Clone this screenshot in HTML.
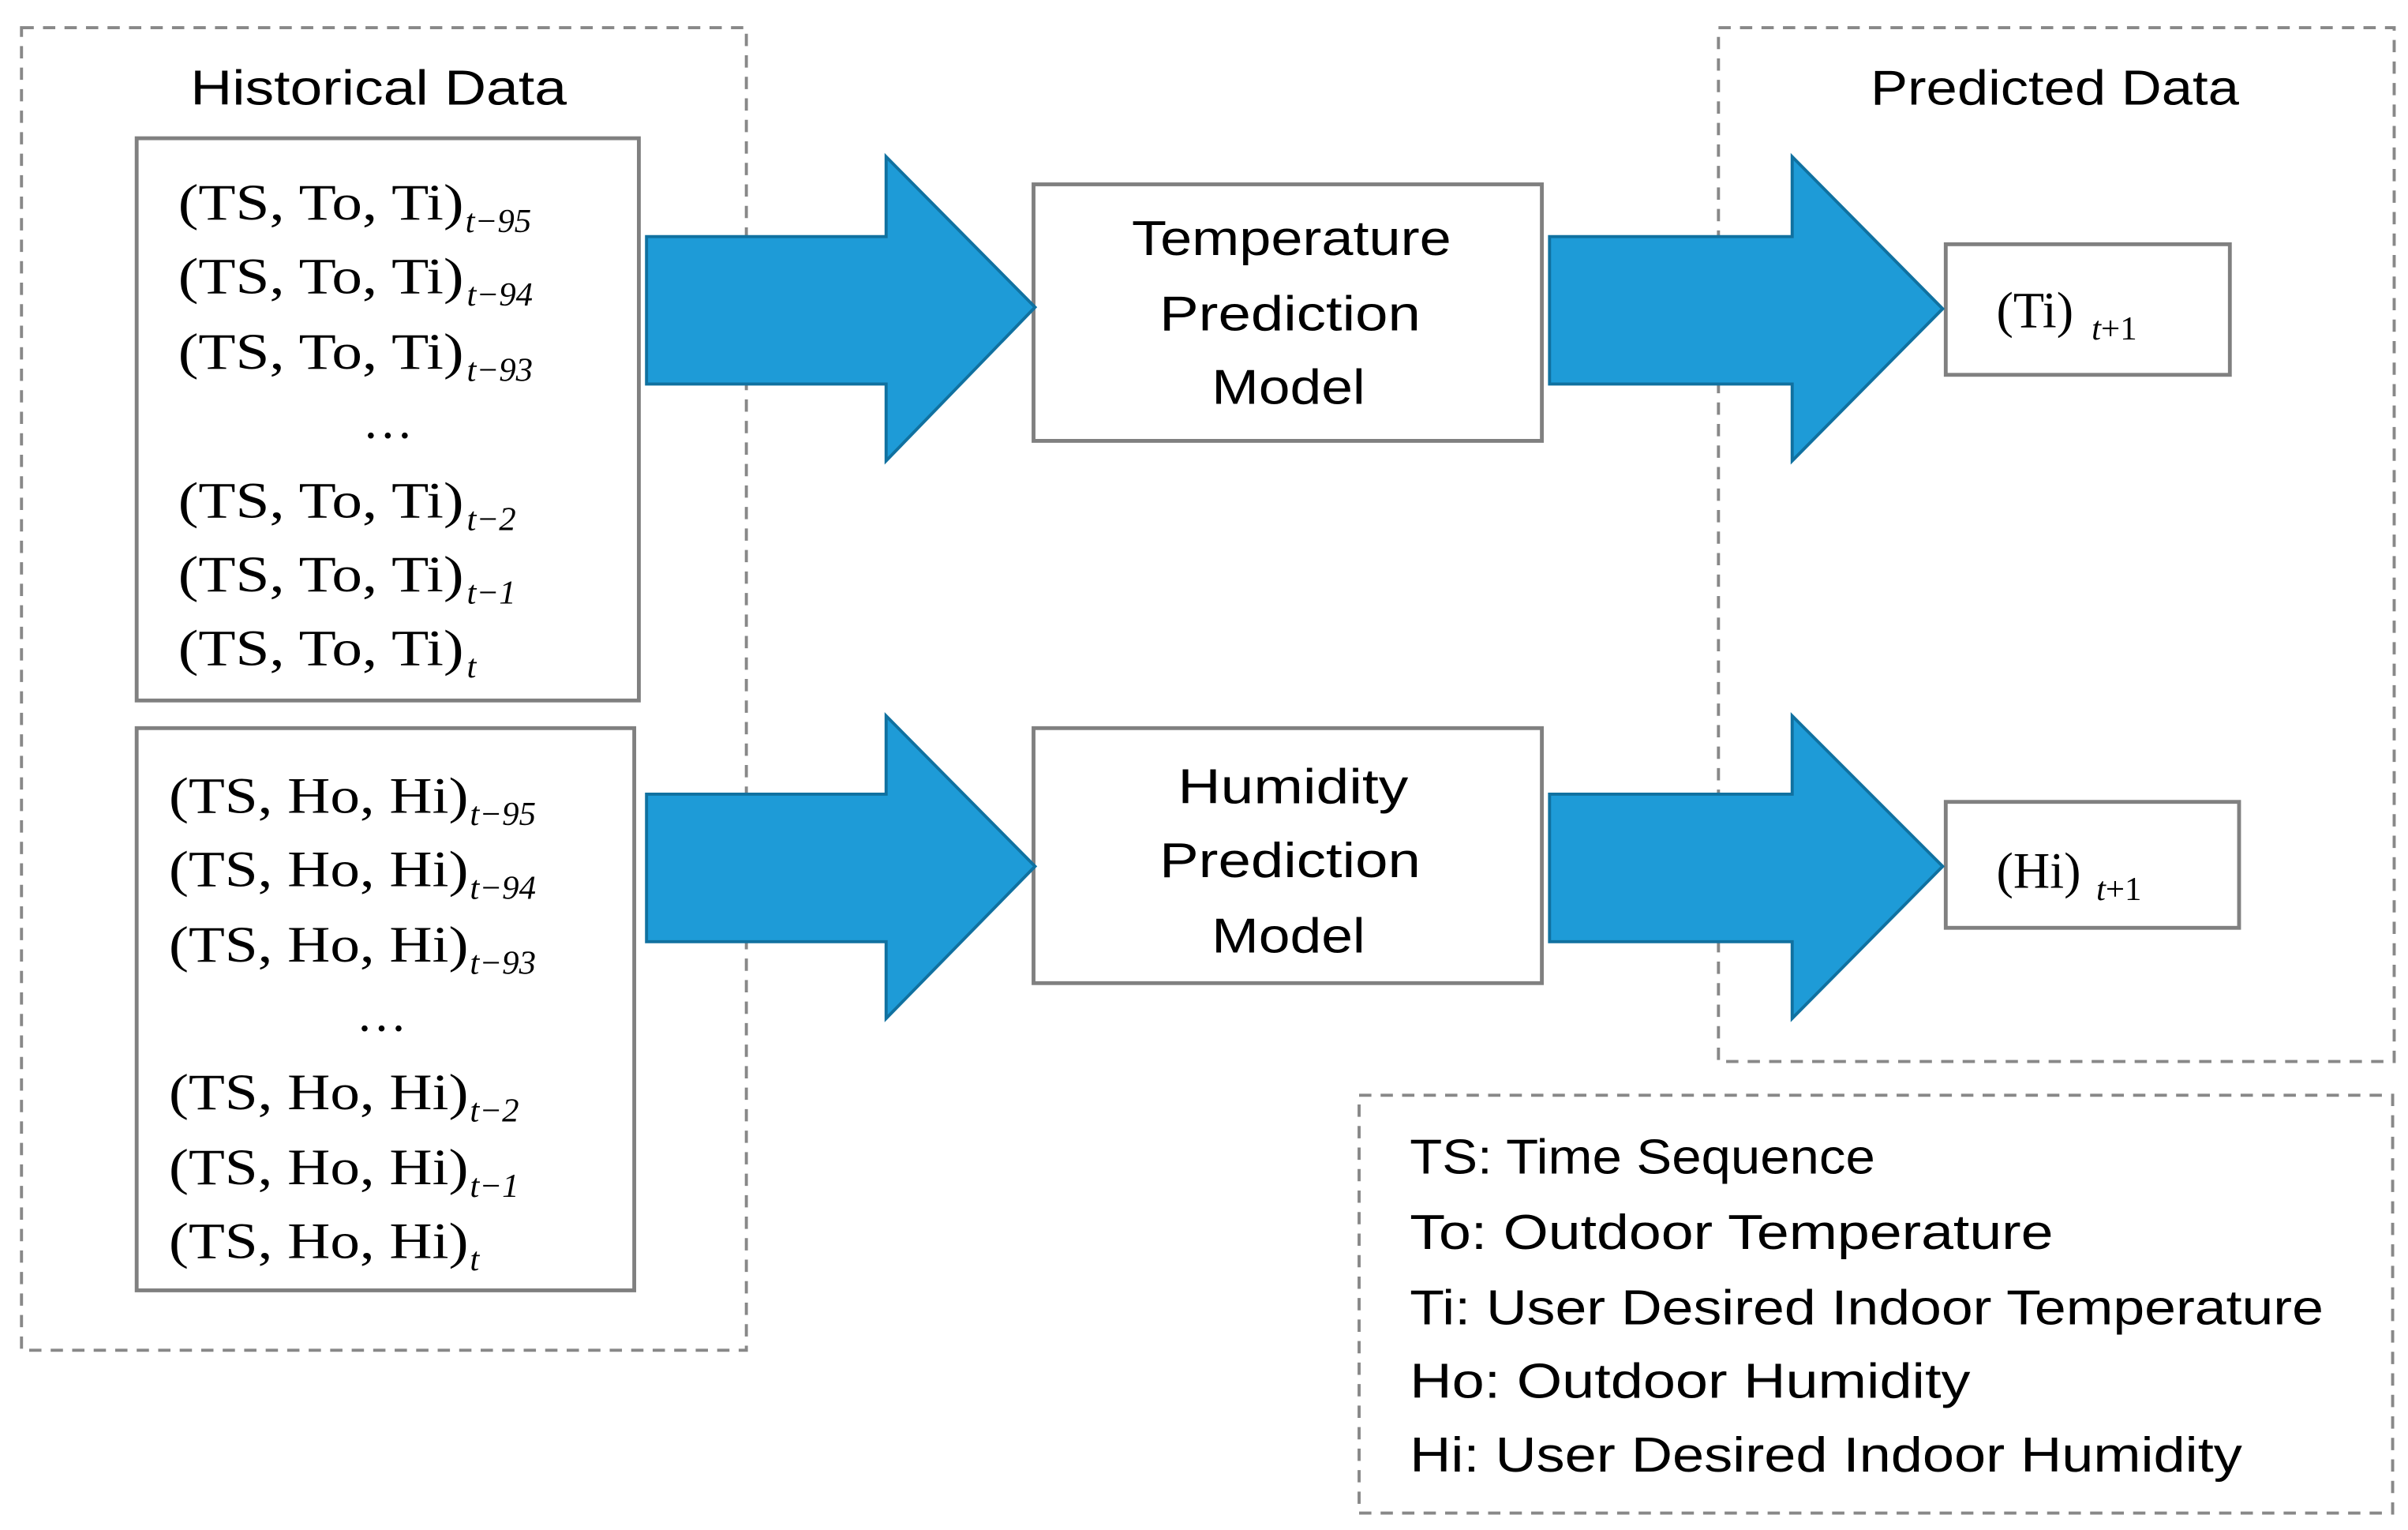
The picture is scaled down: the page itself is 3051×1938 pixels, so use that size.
<!DOCTYPE html>
<html><head><meta charset="utf-8"><style>html,body{margin:0;padding:0;background:#fff}svg{display:block}</style></head><body>
<svg width="3051" height="1938" viewBox="0 0 1568 996" preserveAspectRatio="none" xmlns="http://www.w3.org/2000/svg">
<g fill="none" stroke="#888" stroke-width="2" stroke-dasharray="8,6">
<rect x="14" y="18" width="472" height="861"/>
<rect x="1119" y="18" width="440" height="673"/>
<rect x="885" y="713" width="673" height="272"/>
</g>
<g fill="#fff" stroke="#808080" stroke-width="2.5">
<rect x="89" y="90" width="327" height="366"/>
<rect x="89" y="474" width="324" height="366"/>
<rect x="673" y="120" width="331" height="167"/>
<rect x="673" y="474" width="331" height="166"/>
<rect x="1267" y="159" width="185" height="85"/>
<rect x="1267" y="522" width="191" height="82"/>
</g>
<g fill="#1e9bd7" stroke="#1071a0" stroke-width="2">
<polygon points="421,154 577,154 577,102 674,200 577,300 577,250 421,250"/>
<polygon points="1009,154 1167,154 1167,102 1265,201 1167,300 1167,250 1009,250"/>
<polygon points="421,517 577,517 577,466 674,564 577,663 577,613 421,613"/>
<polygon points="1009,517 1167,517 1167,466 1265,564 1167,663 1167,613 1009,613"/>
</g>
<g font-family="Liberation Sans, sans-serif" font-size="32" fill="#000" lengthAdjust="spacingAndGlyphs">
<text x="124" y="68" textLength="245" lengthAdjust="spacingAndGlyphs">Historical Data</text>
<text x="1218" y="68" textLength="240" lengthAdjust="spacingAndGlyphs">Predicted Data</text>
<text x="737" y="166" textLength="208" lengthAdjust="spacingAndGlyphs">Temperature</text>
<text x="755" y="215" textLength="170" lengthAdjust="spacingAndGlyphs">Prediction</text>
<text x="789" y="263" textLength="100" lengthAdjust="spacingAndGlyphs">Model</text>
<text x="767" y="523" textLength="150" lengthAdjust="spacingAndGlyphs">Humidity</text>
<text x="755" y="571" textLength="170" lengthAdjust="spacingAndGlyphs">Prediction</text>
<text x="789" y="620" textLength="100" lengthAdjust="spacingAndGlyphs">Model</text>
<text x="918" y="764" textLength="303" lengthAdjust="spacingAndGlyphs">TS: Time Sequence</text>
<text x="918" y="813" textLength="419" lengthAdjust="spacingAndGlyphs">To: Outdoor Temperature</text>
<text x="918" y="862" textLength="595" lengthAdjust="spacingAndGlyphs">Ti: User Desired Indoor Temperature</text>
<text x="918" y="910" textLength="365" lengthAdjust="spacingAndGlyphs">Ho: Outdoor Humidity</text>
<text x="918" y="958" textLength="542" lengthAdjust="spacingAndGlyphs">Hi: User Desired Indoor Humidity</text>
</g>
<g font-family="Liberation Serif, serif" font-size="33" fill="#000">
<text x="116" y="143" textLength="186" lengthAdjust="spacingAndGlyphs">(TS, To, Ti)</text><text x="303" y="151" font-size="22" font-style="italic">t−95</text>
<text x="116" y="191" textLength="186" lengthAdjust="spacingAndGlyphs">(TS, To, Ti)</text><text x="304" y="199" font-size="22" font-style="italic">t−94</text>
<text x="116" y="240" textLength="186" lengthAdjust="spacingAndGlyphs">(TS, To, Ti)</text><text x="304" y="248" font-size="22" font-style="italic">t−93</text>
<text x="236" y="285">…</text>
<text x="116" y="337" textLength="186" lengthAdjust="spacingAndGlyphs">(TS, To, Ti)</text><text x="304" y="345" font-size="22" font-style="italic">t−2</text>
<text x="116" y="385" textLength="186" lengthAdjust="spacingAndGlyphs">(TS, To, Ti)</text><text x="304" y="393" font-size="22" font-style="italic">t−1</text>
<text x="116" y="433" textLength="186" lengthAdjust="spacingAndGlyphs">(TS, To, Ti)</text><text x="304" y="441" font-size="22" font-style="italic">t</text>
<text x="110" y="529" textLength="195" lengthAdjust="spacingAndGlyphs">(TS, Ho, Hi)</text><text x="306" y="537" font-size="22" font-style="italic">t−95</text>
<text x="110" y="577" textLength="195" lengthAdjust="spacingAndGlyphs">(TS, Ho, Hi)</text><text x="306" y="585" font-size="22" font-style="italic">t−94</text>
<text x="110" y="626" textLength="195" lengthAdjust="spacingAndGlyphs">(TS, Ho, Hi)</text><text x="306" y="634" font-size="22" font-style="italic">t−93</text>
<text x="232" y="671">…</text>
<text x="110" y="722" textLength="195" lengthAdjust="spacingAndGlyphs">(TS, Ho, Hi)</text><text x="306" y="730" font-size="22" font-style="italic">t−2</text>
<text x="110" y="771" textLength="195" lengthAdjust="spacingAndGlyphs">(TS, Ho, Hi)</text><text x="306" y="779" font-size="22" font-style="italic">t−1</text>
<text x="110" y="819" textLength="195" lengthAdjust="spacingAndGlyphs">(TS, Ho, Hi)</text><text x="306" y="827" font-size="22" font-style="italic">t</text>
<text x="1300" y="213">(Ti)</text><text x="1362" y="221" font-size="22"><tspan font-style="italic">t</tspan>+1</text>
<text x="1300" y="578">(Hi)</text><text x="1365" y="586" font-size="22"><tspan font-style="italic">t</tspan>+1</text>
</g>
</svg>
</body></html>
